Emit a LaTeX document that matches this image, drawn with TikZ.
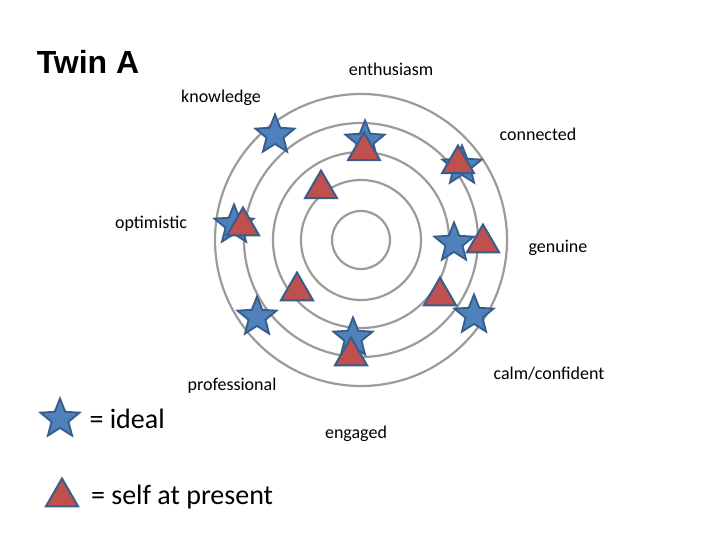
\documentclass[tikz,border=0pt]{standalone}
\usepackage{fontspec}
\setmainfont{Carlito}
\newfontfamily\headfont{Liberation Sans}
\usetikzlibrary{positioning}
\usetikzlibrary{shapes.geometric}

\definecolor{ringgray}{RGB}{155,155,155}
\definecolor{starblue}{RGB}{79,129,189}
\definecolor{edgeblue}{RGB}{56,93,138}
\definecolor{selfred}{RGB}{192,80,77}

\tikzset{
	ideal/.style = {star, star points=5, star point ratio=2.3, fill=starblue, draw=edgeblue, line width=1.9pt, minimum size=41pt, inner sep=0pt},
	self/.style = {regular polygon, regular polygon sides=3, fill=selfred, draw=edgeblue, line width=2pt, minimum size=37pt, inner sep=0pt},
	word/.style = {font=\fontsize{18}{20}\selectfont, inner sep=0pt},
	keyword/.style = {font=\fontsize{28}{32}\selectfont, inner sep=0pt}
}

\begin{document}
\begin{tikzpicture}[x=1pt,y=-1pt]
		\useasboundingbox (0,0) rectangle (720,540);
		\coordinate (c) at (361,240);
		% rings
		\foreach \r in {29,60,88,117,146}
			\draw[ringgray, line width=2.2pt] (c) circle[radius=\r];
		% ideal and present self
		\node[ideal] at (275,135) (s1) {};
		\node[ideal] at (365,141) (s2) {};
		\node[self] at (364,151) (t2) {};
		\node[ideal] at (462,166) (s3) {};
		\node[self] at (458,164) (t3) {};
		\node[self] at (321,189) (t4) {};
		\node[ideal] at (234,225) (s5) {};
		\node[self] at (243,226) (t5) {};
		\node[ideal] at (454,243) (s6) {};
		\node[self] at (483,243) (t6) {};
		\node[self] at (297,291) (t7) {};
		\node[self] at (440,296) (t8) {};
		\node[ideal] at (257,317) (s9) {};
		\node[ideal] at (474,315) (s10) {};
		\node[ideal] at (353,338) (s11) {};
		\node[self] at (351,356) (t11) {};
		% labels
		\node[font=\headfont\bfseries\fontsize{32}{36}\selectfont] at (88,62) (title) {Twin A};
		\node[word] at (391,69) (enth) {enthusiasm};
		\node[word] at (221,98) (know) {knowledge};
		\node[word] at (538,134) (conn) {connected};
		\node[word] at (151,224) (opti) {optimistic};
		\node[word] at (558,248) (genu) {genuine};
		\node[word] at (549,374) (calm) {calm/confident};
		\node[word] at (232,386) (prof) {professional};
		\node[word] at (356,434) (enga) {engaged};
		% legend
		\node[ideal] at (60,419) (key1) {};
		\node[right = 16pt of key1, keyword] (keytxt1) {= ideal};
		\node[self] at (62,497) (key2) {};
		\node[right = 17pt of key2, keyword] (keytxt2) {= self at present};
	\end{tikzpicture}
\end{document}
